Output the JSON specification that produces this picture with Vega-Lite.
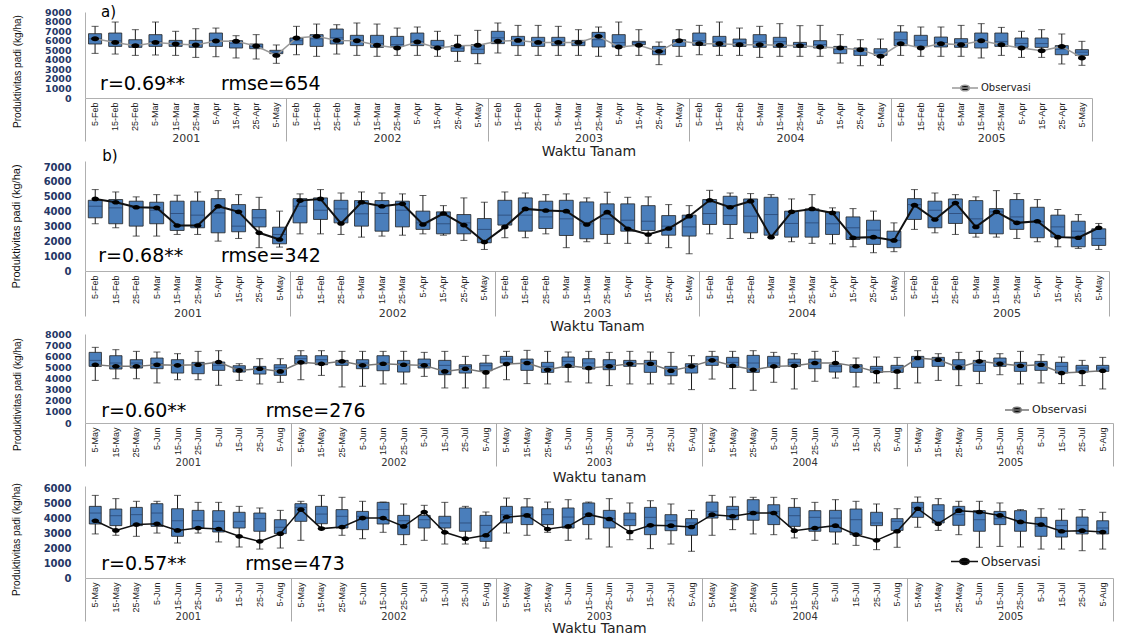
{
"$schema":"https://vega.github.io/schema/vega-lite/v6.json",
"padding":{"left":10,"top":5,"right":0,"bottom":0},
"background":"white",
"config":{"view":{"stroke":null},"axis":{"grid":false},"axisY":{"format":"d","labelFont":"DejaVu Sans","labelFontWeight":"bold","labelFontSize":10,"labelColor":"#253766","labelPadding":14,"ticks":false,"domainColor":"#b0b0b0","titleFont":"Liberation Sans","titleFontSize":10,"titleFontWeight":"normal","titleColor":"#111","titlePadding":22},"font":"DejaVu Sans"},
"datasets":{
"a":[
{"k":"2001 01 5-Feb","yr":"2001","lo":4670,"q1":5650,"md":6200,"q3":6730,"hi":7500,"obs":6210},
{"k":"2001 02 15-Feb","yr":"2001","lo":4600,"q1":5400,"md":6000,"q3":6800,"hi":7950,"obs":5820},
{"k":"2001 03 25-Feb","yr":"2001","lo":4460,"q1":5300,"md":5600,"q3":6100,"hi":7150,"obs":5480},
{"k":"2001 04 5-Mar","yr":"2001","lo":4500,"q1":5400,"md":5900,"q3":6630,"hi":7950,"obs":5820},
{"k":"2001 05 15-Mar","yr":"2001","lo":4460,"q1":5400,"md":5700,"q3":6030,"hi":6980,"obs":5650},
{"k":"2001 06 25-Mar","yr":"2001","lo":4250,"q1":5300,"md":5600,"q3":6030,"hi":7250,"obs":5550},
{"k":"2001 07 5-Apr","yr":"2001","lo":4320,"q1":5400,"md":6000,"q3":6800,"hi":7320,"obs":5960},
{"k":"2001 08 15-Apr","yr":"2001","lo":4190,"q1":5230,"md":5700,"q3":6000,"hi":6520,"obs":5930},
{"k":"2001 09 25-Apr","yr":"2001","lo":4080,"q1":5160,"md":5400,"q3":5650,"hi":6630,"obs":5440},
{"k":"2001 10 5-May","yr":"2001","lo":3630,"q1":4640,"md":4800,"q3":4990,"hi":5550,"obs":4460},
{"k":"2002 01 5-Feb","yr":"2002","lo":4530,"q1":5580,"md":6000,"q3":6280,"hi":7500,"obs":6280},
{"k":"2002 02 15-Feb","yr":"2002","lo":4360,"q1":5400,"md":6200,"q3":6630,"hi":7740,"obs":6450},
{"k":"2002 03 25-Feb","yr":"2002","lo":4600,"q1":5650,"md":6300,"q3":7220,"hi":7670,"obs":6030},
{"k":"2002 04 5-Mar","yr":"2002","lo":4460,"q1":5480,"md":6000,"q3":6560,"hi":7850,"obs":6000},
{"k":"2002 05 15-Mar","yr":"2002","lo":4360,"q1":5300,"md":5700,"q3":6560,"hi":7740,"obs":5510},
{"k":"2002 06 25-Mar","yr":"2002","lo":4460,"q1":5400,"md":5600,"q3":6450,"hi":7320,"obs":5230},
{"k":"2002 07 5-Apr","yr":"2002","lo":4460,"q1":5480,"md":5900,"q3":6800,"hi":7430,"obs":5860},
{"k":"2002 08 15-Apr","yr":"2002","lo":4360,"q1":5230,"md":5500,"q3":6030,"hi":6980,"obs":5230},
{"k":"2002 09 25-Apr","yr":"2002","lo":3840,"q1":4880,"md":5200,"q3":5480,"hi":6560,"obs":5480},
{"k":"2002 10 5-May","yr":"2002","lo":3590,"q1":4640,"md":5100,"q3":5580,"hi":7080,"obs":5510},
{"k":"2003 01 5-Feb","yr":"2003","lo":4710,"q1":5690,"md":6300,"q3":6980,"hi":7850,"obs":5930},
{"k":"2003 02 15-Feb","yr":"2003","lo":4460,"q1":5480,"md":6000,"q3":6450,"hi":7600,"obs":6030},
{"k":"2003 03 25-Feb","yr":"2003","lo":4460,"q1":5400,"md":5900,"q3":6350,"hi":7600,"obs":5820},
{"k":"2003 04 5-Mar","yr":"2003","lo":4460,"q1":5480,"md":5900,"q3":6350,"hi":7500,"obs":5820},
{"k":"2003 05 15-Mar","yr":"2003","lo":4460,"q1":5480,"md":5800,"q3":6030,"hi":7150,"obs":5820},
{"k":"2003 06 25-Mar","yr":"2003","lo":4360,"q1":5340,"md":6100,"q3":6870,"hi":7430,"obs":6450},
{"k":"2003 07 5-Apr","yr":"2003","lo":4460,"q1":5340,"md":5800,"q3":6630,"hi":7950,"obs":5340},
{"k":"2003 08 15-Apr","yr":"2003","lo":4460,"q1":5580,"md":5800,"q3":5930,"hi":7150,"obs":5510},
{"k":"2003 09 25-Apr","yr":"2003","lo":3490,"q1":4530,"md":4900,"q3":5400,"hi":5860,"obs":4880},
{"k":"2003 10 5-May","yr":"2003","lo":4360,"q1":5400,"md":5900,"q3":6100,"hi":7150,"obs":6000},
{"k":"2004 01 5-Feb","yr":"2004","lo":4530,"q1":5510,"md":6000,"q3":6800,"hi":7600,"obs":5690},
{"k":"2004 02 15-Feb","yr":"2004","lo":4460,"q1":5400,"md":5900,"q3":6450,"hi":7950,"obs":5690},
{"k":"2004 03 25-Feb","yr":"2004","lo":4460,"q1":5400,"md":5800,"q3":6170,"hi":7320,"obs":5580},
{"k":"2004 04 5-Mar","yr":"2004","lo":4250,"q1":5300,"md":5900,"q3":6630,"hi":7500,"obs":5580},
{"k":"2004 05 15-Mar","yr":"2004","lo":4360,"q1":5300,"md":5900,"q3":6350,"hi":7780,"obs":5510},
{"k":"2004 06 25-Mar","yr":"2004","lo":4360,"q1":5300,"md":5600,"q3":5820,"hi":7570,"obs":5480},
{"k":"2004 07 5-Apr","yr":"2004","lo":4360,"q1":5230,"md":5600,"q3":6000,"hi":7600,"obs":5340},
{"k":"2004 08 15-Apr","yr":"2004","lo":3660,"q1":4640,"md":5100,"q3":5400,"hi":6630,"obs":5230},
{"k":"2004 09 25-Apr","yr":"2004","lo":3380,"q1":4460,"md":4900,"q3":5230,"hi":6100,"obs":5060},
{"k":"2004 10 5-May","yr":"2004","lo":3420,"q1":4460,"md":4800,"q3":5160,"hi":6170,"obs":4360},
{"k":"2005 01 5-Feb","yr":"2005","lo":4460,"q1":5480,"md":6100,"q3":6910,"hi":7570,"obs":5690},
{"k":"2005 02 15-Feb","yr":"2005","lo":4360,"q1":5400,"md":6030,"q3":6560,"hi":7430,"obs":5230},
{"k":"2005 03 25-Feb","yr":"2005","lo":4360,"q1":5340,"md":5800,"q3":6380,"hi":7430,"obs":5690},
{"k":"2005 04 5-Mar","yr":"2005","lo":4360,"q1":5300,"md":5800,"q3":6210,"hi":7600,"obs":5580},
{"k":"2005 05 15-Mar","yr":"2005","lo":4190,"q1":5230,"md":6000,"q3":6800,"hi":7780,"obs":6000},
{"k":"2005 06 25-Mar","yr":"2005","lo":4460,"q1":5400,"md":5900,"q3":6800,"hi":7390,"obs":5580},
{"k":"2005 07 5-Apr","yr":"2005","lo":4250,"q1":5300,"md":5700,"q3":6280,"hi":6980,"obs":5230},
{"k":"2005 08 15-Apr","yr":"2005","lo":4250,"q1":5300,"md":5700,"q3":6280,"hi":7150,"obs":4950},
{"k":"2005 09 25-Apr","yr":"2005","lo":3560,"q1":4530,"md":5100,"q3":5480,"hi":6700,"obs":5400},
{"k":"2005 10 5-May","yr":"2005","lo":3420,"q1":4460,"md":4800,"q3":5060,"hi":5930,"obs":4190}
],
"b":[
{"k":"2001 01 5-Feb","yr":"2001","lo":3180,"q1":3580,"md":4360,"q3":4760,"hi":5480,"obs":4850},
{"k":"2001 02 15-Feb","yr":"2001","lo":2910,"q1":3180,"md":4250,"q3":4810,"hi":5320,"obs":4630},
{"k":"2001 03 25-Feb","yr":"2001","lo":2350,"q1":3020,"md":4290,"q3":4700,"hi":4990,"obs":4290},
{"k":"2001 04 5-Mar","yr":"2001","lo":2350,"q1":3180,"md":4090,"q3":4630,"hi":5140,"obs":4250},
{"k":"2001 05 15-Mar","yr":"2001","lo":2460,"q1":2730,"md":3870,"q3":4700,"hi":5100,"obs":3060},
{"k":"2001 06 25-Mar","yr":"2001","lo":2460,"q1":2910,"md":3760,"q3":4700,"hi":5320,"obs":3060},
{"k":"2001 07 5-Apr","yr":"2001","lo":2010,"q1":2570,"md":3910,"q3":4870,"hi":5410,"obs":4360},
{"k":"2001 08 15-Apr","yr":"2001","lo":2190,"q1":2640,"md":3020,"q3":4470,"hi":5140,"obs":3980},
{"k":"2001 09 25-Apr","yr":"2001","lo":1570,"q1":2970,"md":3580,"q3":4140,"hi":4960,"obs":2570},
{"k":"2001 10 5-May","yr":"2001","lo":1610,"q1":1830,"md":2460,"q3":2950,"hi":4030,"obs":2120},
{"k":"2002 01 5-Feb","yr":"2002","lo":2500,"q1":3240,"md":4360,"q3":4870,"hi":5190,"obs":4740},
{"k":"2002 02 15-Feb","yr":"2002","lo":2500,"q1":3470,"md":4090,"q3":4920,"hi":5480,"obs":4850},
{"k":"2002 03 25-Feb","yr":"2002","lo":2460,"q1":3240,"md":4180,"q3":4760,"hi":5250,"obs":3200},
{"k":"2002 04 5-Mar","yr":"2002","lo":2280,"q1":3020,"md":3850,"q3":4740,"hi":5320,"obs":4630},
{"k":"2002 05 15-Mar","yr":"2002","lo":2350,"q1":2680,"md":3870,"q3":4740,"hi":5250,"obs":4360},
{"k":"2002 06 25-Mar","yr":"2002","lo":2410,"q1":2970,"md":4090,"q3":4700,"hi":5190,"obs":4520},
{"k":"2002 07 5-Apr","yr":"2002","lo":2500,"q1":2800,"md":3240,"q3":4030,"hi":5080,"obs":3130},
{"k":"2002 08 15-Apr","yr":"2002","lo":2410,"q1":2500,"md":3180,"q3":3980,"hi":4400,"obs":3870},
{"k":"2002 09 25-Apr","yr":"2002","lo":2060,"q1":2500,"md":3240,"q3":3800,"hi":4920,"obs":3090},
{"k":"2002 10 5-May","yr":"2002","lo":1450,"q1":1900,"md":2800,"q3":3530,"hi":4630,"obs":1950},
{"k":"2003 01 5-Feb","yr":"2003","lo":2240,"q1":3090,"md":3760,"q3":4760,"hi":5320,"obs":2970},
{"k":"2003 02 15-Feb","yr":"2003","lo":2240,"q1":2680,"md":3760,"q3":4920,"hi":5250,"obs":4180},
{"k":"2003 03 25-Feb","yr":"2003","lo":2500,"q1":2860,"md":3640,"q3":4700,"hi":5140,"obs":4070},
{"k":"2003 04 5-Mar","yr":"2003","lo":1570,"q1":2390,"md":3510,"q3":4760,"hi":5190,"obs":4030},
{"k":"2003 05 15-Mar","yr":"2003","lo":1970,"q1":2170,"md":3180,"q3":4650,"hi":4920,"obs":3130},
{"k":"2003 06 25-Mar","yr":"2003","lo":1860,"q1":2460,"md":3510,"q3":4520,"hi":5300,"obs":3960},
{"k":"2003 07 5-Apr","yr":"2003","lo":1860,"q1":2680,"md":3420,"q3":4520,"hi":4960,"obs":2840},
{"k":"2003 08 15-Apr","yr":"2003","lo":1860,"q1":2730,"md":3350,"q3":4400,"hi":4990,"obs":2460},
{"k":"2003 09 25-Apr","yr":"2003","lo":1570,"q1":2410,"md":3020,"q3":3730,"hi":4470,"obs":2860},
{"k":"2003 10 5-May","yr":"2003","lo":1160,"q1":2350,"md":2970,"q3":3760,"hi":4400,"obs":3690},
{"k":"2004 01 5-Feb","yr":"2004","lo":2500,"q1":3130,"md":3870,"q3":4810,"hi":5430,"obs":4760},
{"k":"2004 02 15-Feb","yr":"2004","lo":2190,"q1":3130,"md":3730,"q3":5030,"hi":5250,"obs":4290},
{"k":"2004 03 25-Feb","yr":"2004","lo":2190,"q1":2570,"md":3690,"q3":4850,"hi":5210,"obs":4700},
{"k":"2004 04 5-Mar","yr":"2004","lo":2280,"q1":2410,"md":3800,"q3":4960,"hi":5140,"obs":2280},
{"k":"2004 05 15-Mar","yr":"2004","lo":1970,"q1":2280,"md":3200,"q3":4030,"hi":4850,"obs":3980},
{"k":"2004 06 25-Mar","yr":"2004","lo":1860,"q1":2280,"md":3240,"q3":4180,"hi":5140,"obs":4180},
{"k":"2004 07 5-Apr","yr":"2004","lo":1830,"q1":2460,"md":3180,"q3":3980,"hi":4250,"obs":3910},
{"k":"2004 08 15-Apr","yr":"2004","lo":1630,"q1":2120,"md":2910,"q3":3640,"hi":4200,"obs":2240},
{"k":"2004 09 25-Apr","yr":"2004","lo":1230,"q1":1790,"md":2750,"q3":3420,"hi":4030,"obs":2280},
{"k":"2004 10 5-May","yr":"2004","lo":1300,"q1":1570,"md":2060,"q3":2680,"hi":3240,"obs":2060},
{"k":"2005 01 5-Feb","yr":"2005","lo":2800,"q1":3470,"md":4470,"q3":4870,"hi":5480,"obs":4430},
{"k":"2005 02 15-Feb","yr":"2005","lo":2570,"q1":2910,"md":4090,"q3":4700,"hi":5250,"obs":3470},
{"k":"2005 03 25-Feb","yr":"2005","lo":2460,"q1":3200,"md":3870,"q3":4850,"hi":5140,"obs":4580},
{"k":"2005 04 5-Mar","yr":"2005","lo":2280,"q1":2530,"md":3510,"q3":4740,"hi":4990,"obs":2970},
{"k":"2005 05 15-Mar","yr":"2005","lo":2280,"q1":2500,"md":3980,"q3":4200,"hi":5410,"obs":3980},
{"k":"2005 06 25-Mar","yr":"2005","lo":2190,"q1":2800,"md":3640,"q3":4810,"hi":5210,"obs":3240},
{"k":"2005 07 5-Apr","yr":"2005","lo":1970,"q1":2240,"md":3310,"q3":4290,"hi":4810,"obs":3350},
{"k":"2005 08 15-Apr","yr":"2005","lo":1630,"q1":2280,"md":2970,"q3":3760,"hi":4140,"obs":2280},
{"k":"2005 09 25-Apr","yr":"2005","lo":1520,"q1":1630,"md":2680,"q3":3350,"hi":3800,"obs":2240},
{"k":"2005 10 5-May","yr":"2005","lo":1450,"q1":1720,"md":2190,"q3":2840,"hi":3200,"obs":2910}
],
"c":[
{"k":"2001 01 5-May","yr":"2001","lo":3830,"q1":5090,"md":5630,"q3":6350,"hi":6800,"obs":5240},
{"k":"2001 02 15-May","yr":"2001","lo":3980,"q1":4850,"md":5390,"q3":6050,"hi":6590,"obs":5090},
{"k":"2001 03 25-May","yr":"2001","lo":3980,"q1":4940,"md":5390,"q3":5690,"hi":6440,"obs":5090},
{"k":"2001 04 5-Jun","yr":"2001","lo":3600,"q1":4880,"md":5330,"q3":5840,"hi":6380,"obs":5240},
{"k":"2001 05 15-Jun","yr":"2001","lo":3890,"q1":4490,"md":5180,"q3":5690,"hi":6230,"obs":5180},
{"k":"2001 06 25-Jun","yr":"2001","lo":3890,"q1":4430,"md":5240,"q3":5450,"hi":6440,"obs":5240},
{"k":"2001 07 5-Jul","yr":"2001","lo":3390,"q1":4730,"md":5180,"q3":5480,"hi":6500,"obs":5480},
{"k":"2001 08 15-Jul","yr":"2001","lo":3830,"q1":4580,"md":4940,"q3":5150,"hi":5330,"obs":4730},
{"k":"2001 09 25-Jul","yr":"2001","lo":3510,"q1":4400,"md":4880,"q3":5090,"hi":5780,"obs":4880},
{"k":"2001 10 5-Aug","yr":"2001","lo":3660,"q1":4280,"md":5000,"q3":5240,"hi":5780,"obs":4640},
{"k":"2002 01 5-May","yr":"2002","lo":3890,"q1":5330,"md":5780,"q3":6050,"hi":6500,"obs":5450},
{"k":"2002 02 15-May","yr":"2002","lo":4280,"q1":5240,"md":5690,"q3":6050,"hi":6500,"obs":5330},
{"k":"2002 03 25-May","yr":"2002","lo":3240,"q1":5180,"md":5480,"q3":5630,"hi":6440,"obs":5540},
{"k":"2002 04 5-Jun","yr":"2002","lo":3300,"q1":4880,"md":5390,"q3":5690,"hi":6440,"obs":5180},
{"k":"2002 05 15-Jun","yr":"2002","lo":3510,"q1":4700,"md":5390,"q3":6050,"hi":6440,"obs":5330},
{"k":"2002 06 25-Jun","yr":"2002","lo":3510,"q1":4580,"md":5330,"q3":5630,"hi":6440,"obs":5240},
{"k":"2002 07 5-Jul","yr":"2002","lo":4190,"q1":4940,"md":5330,"q3":5750,"hi":6350,"obs":5180},
{"k":"2002 08 15-Jul","yr":"2002","lo":3150,"q1":4340,"md":5180,"q3":5630,"hi":6440,"obs":4640},
{"k":"2002 09 25-Jul","yr":"2002","lo":3150,"q1":4490,"md":5090,"q3":5240,"hi":5990,"obs":4880},
{"k":"2002 10 5-Aug","yr":"2002","lo":3150,"q1":4700,"md":5150,"q3":5390,"hi":6080,"obs":4550},
{"k":"2003 01 5-May","yr":"2003","lo":3890,"q1":5390,"md":5750,"q3":5990,"hi":6440,"obs":5300},
{"k":"2003 02 15-May","yr":"2003","lo":3540,"q1":4730,"md":5450,"q3":5750,"hi":6530,"obs":5390},
{"k":"2003 03 25-May","yr":"2003","lo":3510,"q1":4550,"md":5090,"q3":5450,"hi":6440,"obs":4790},
{"k":"2003 04 5-Jun","yr":"2003","lo":3690,"q1":5000,"md":5540,"q3":5930,"hi":6380,"obs":5150},
{"k":"2003 05 15-Jun","yr":"2003","lo":3600,"q1":4850,"md":5390,"q3":5780,"hi":6440,"obs":4940},
{"k":"2003 06 25-Jun","yr":"2003","lo":3360,"q1":4790,"md":5240,"q3":5690,"hi":6350,"obs":5090},
{"k":"2003 07 5-Jul","yr":"2003","lo":3510,"q1":5090,"md":5390,"q3":5630,"hi":6440,"obs":5330},
{"k":"2003 08 15-Jul","yr":"2003","lo":3510,"q1":4550,"md":5390,"q3":5630,"hi":6380,"obs":5330},
{"k":"2003 09 25-Jul","yr":"2003","lo":3510,"q1":4250,"md":4880,"q3":5090,"hi":6350,"obs":4700},
{"k":"2003 10 5-Aug","yr":"2003","lo":3000,"q1":4490,"md":5090,"q3":5330,"hi":6050,"obs":5090},
{"k":"2004 01 5-May","yr":"2004","lo":3950,"q1":5180,"md":5690,"q3":5990,"hi":6440,"obs":5630},
{"k":"2004 02 15-May","yr":"2004","lo":3090,"q1":5000,"md":5450,"q3":5900,"hi":6440,"obs":5150},
{"k":"2004 03 25-May","yr":"2004","lo":2940,"q1":4550,"md":5390,"q3":6080,"hi":6500,"obs":4790},
{"k":"2004 04 5-Jun","yr":"2004","lo":3660,"q1":5000,"md":5390,"q3":5990,"hi":6350,"obs":5090},
{"k":"2004 05 15-Jun","yr":"2004","lo":3060,"q1":5090,"md":5450,"q3":5750,"hi":6230,"obs":5150},
{"k":"2004 06 25-Jun","yr":"2004","lo":3750,"q1":4880,"md":5450,"q3":5750,"hi":6440,"obs":5390},
{"k":"2004 07 5-Jul","yr":"2004","lo":4040,"q1":4580,"md":5090,"q3":5240,"hi":6440,"obs":5390},
{"k":"2004 08 15-Jul","yr":"2004","lo":3240,"q1":4550,"md":5030,"q3":5240,"hi":5840,"obs":5090},
{"k":"2004 09 25-Jul","yr":"2004","lo":3600,"q1":4550,"md":4880,"q3":5090,"hi":5930,"obs":4580},
{"k":"2004 10 5-Aug","yr":"2004","lo":3090,"q1":4550,"md":4940,"q3":5180,"hi":5900,"obs":4640},
{"k":"2005 01 5-May","yr":"2005","lo":3600,"q1":5000,"md":5750,"q3":5990,"hi":6500,"obs":5840},
{"k":"2005 02 15-May","yr":"2005","lo":3830,"q1":5090,"md":5600,"q3":5900,"hi":6230,"obs":5690},
{"k":"2005 03 25-May","yr":"2005","lo":3360,"q1":4790,"md":5240,"q3":5690,"hi":6350,"obs":5000},
{"k":"2005 04 5-Jun","yr":"2005","lo":3540,"q1":4640,"md":5180,"q3":5630,"hi":6440,"obs":5540},
{"k":"2005 05 15-Jun","yr":"2005","lo":4340,"q1":5090,"md":5480,"q3":5840,"hi":6230,"obs":5330},
{"k":"2005 06 25-Jun","yr":"2005","lo":3510,"q1":4640,"md":5180,"q3":5450,"hi":6440,"obs":5150},
{"k":"2005 07 5-Jul","yr":"2005","lo":3600,"q1":4730,"md":5300,"q3":5540,"hi":6140,"obs":5240},
{"k":"2005 08 15-Jul","yr":"2005","lo":3540,"q1":4490,"md":5090,"q3":5450,"hi":5930,"obs":4490},
{"k":"2005 09 25-Jul","yr":"2005","lo":3360,"q1":4580,"md":4940,"q3":5180,"hi":5630,"obs":4580},
{"k":"2005 10 5-Aug","yr":"2005","lo":3060,"q1":4640,"md":4940,"q3":5180,"hi":5900,"obs":4700}
],
"d":[
{"k":"2001 01 5-May","yr":"2001","lo":2970,"q1":3640,"md":4380,"q3":4830,"hi":5570,"obs":3860},
{"k":"2001 02 15-May","yr":"2001","lo":2880,"q1":3530,"md":4200,"q3":4650,"hi":5350,"obs":3210},
{"k":"2001 03 25-May","yr":"2001","lo":2810,"q1":3530,"md":4270,"q3":4760,"hi":5170,"obs":3600},
{"k":"2001 04 5-Jun","yr":"2001","lo":3030,"q1":3480,"md":4380,"q3":5010,"hi":5170,"obs":3660},
{"k":"2001 05 15-Jun","yr":"2001","lo":2360,"q1":2810,"md":3860,"q3":4670,"hi":5570,"obs":3210},
{"k":"2001 06 25-Jun","yr":"2001","lo":3030,"q1":3370,"md":3860,"q3":4560,"hi":5100,"obs":3370},
{"k":"2001 07 5-Jul","yr":"2001","lo":2430,"q1":3100,"md":3820,"q3":4540,"hi":5100,"obs":3300},
{"k":"2001 08 15-Jul","yr":"2001","lo":2090,"q1":3370,"md":3820,"q3":4430,"hi":4830,"obs":2810},
{"k":"2001 09 25-Jul","yr":"2001","lo":1950,"q1":3150,"md":4000,"q3":4380,"hi":4720,"obs":2470},
{"k":"2001 10 5-Aug","yr":"2001","lo":2020,"q1":2990,"md":3420,"q3":3930,"hi":4560,"obs":2990},
{"k":"2002 01 5-May","yr":"2002","lo":2540,"q1":3820,"md":4760,"q3":5010,"hi":5170,"obs":4610},
{"k":"2002 02 15-May","yr":"2002","lo":3370,"q1":3660,"md":4310,"q3":4830,"hi":5570,"obs":3330},
{"k":"2002 03 25-May","yr":"2002","lo":2880,"q1":3370,"md":4160,"q3":4610,"hi":5440,"obs":3440},
{"k":"2002 04 5-Jun","yr":"2002","lo":2650,"q1":3260,"md":4160,"q3":4490,"hi":5170,"obs":4040},
{"k":"2002 05 15-Jun","yr":"2002","lo":3080,"q1":3640,"md":4610,"q3":5100,"hi":5120,"obs":4040},
{"k":"2002 06 25-Jun","yr":"2002","lo":2250,"q1":2920,"md":3860,"q3":4220,"hi":4990,"obs":3480},
{"k":"2002 07 5-Jul","yr":"2002","lo":2540,"q1":3370,"md":3930,"q3":4220,"hi":4900,"obs":4450},
{"k":"2002 08 15-Jul","yr":"2002","lo":2290,"q1":3370,"md":3710,"q3":4160,"hi":5100,"obs":3080},
{"k":"2002 09 25-Jul","yr":"2002","lo":2290,"q1":3150,"md":3710,"q3":4720,"hi":4830,"obs":2650},
{"k":"2002 10 5-Aug","yr":"2002","lo":2020,"q1":2470,"md":3550,"q3":4220,"hi":4450,"obs":2880},
{"k":"2003 01 5-May","yr":"2003","lo":3030,"q1":3710,"md":4270,"q3":4830,"hi":5390,"obs":4110},
{"k":"2003 02 15-May","yr":"2003","lo":2880,"q1":3600,"md":4310,"q3":4790,"hi":5350,"obs":4220},
{"k":"2003 03 25-May","yr":"2003","lo":3080,"q1":3600,"md":4270,"q3":4670,"hi":5120,"obs":3300},
{"k":"2003 04 5-Jun","yr":"2003","lo":2540,"q1":3370,"md":4110,"q3":4720,"hi":5280,"obs":3480},
{"k":"2003 05 15-Jun","yr":"2003","lo":2630,"q1":3600,"md":4310,"q3":5060,"hi":5120,"obs":4270},
{"k":"2003 06 25-Jun","yr":"2003","lo":2090,"q1":3370,"md":4000,"q3":4560,"hi":5350,"obs":3980},
{"k":"2003 07 5-Jul","yr":"2003","lo":2580,"q1":3530,"md":3930,"q3":4380,"hi":5060,"obs":3100},
{"k":"2003 08 15-Jul","yr":"2003","lo":1980,"q1":2920,"md":4090,"q3":4760,"hi":5210,"obs":3550},
{"k":"2003 09 25-Jul","yr":"2003","lo":2290,"q1":3190,"md":3860,"q3":4270,"hi":4990,"obs":3530},
{"k":"2003 10 5-Aug","yr":"2003","lo":1800,"q1":2880,"md":3710,"q3":4000,"hi":4560,"obs":3440},
{"k":"2004 01 5-May","yr":"2004","lo":2880,"q1":4040,"md":4490,"q3":5120,"hi":5570,"obs":4270},
{"k":"2004 02 15-May","yr":"2004","lo":3260,"q1":3930,"md":4610,"q3":4830,"hi":5460,"obs":4160},
{"k":"2004 03 25-May","yr":"2004","lo":2970,"q1":3890,"md":4490,"q3":5280,"hi":5440,"obs":4380},
{"k":"2004 04 5-Jun","yr":"2004","lo":2920,"q1":3600,"md":4490,"q3":4940,"hi":5440,"obs":4380},
{"k":"2004 05 15-Jun","yr":"2004","lo":2700,"q1":3480,"md":4200,"q3":4760,"hi":5350,"obs":3190},
{"k":"2004 06 25-Jun","yr":"2004","lo":2540,"q1":3150,"md":4090,"q3":4540,"hi":5100,"obs":3370},
{"k":"2004 07 5-Jul","yr":"2004","lo":2290,"q1":3100,"md":4040,"q3":4560,"hi":5280,"obs":3530},
{"k":"2004 08 15-Jul","yr":"2004","lo":2200,"q1":2920,"md":3930,"q3":4650,"hi":5170,"obs":2920},
{"k":"2004 09 25-Jul","yr":"2004","lo":1910,"q1":3530,"md":3710,"q3":4430,"hi":4990,"obs":2540},
{"k":"2004 10 5-Aug","yr":"2004","lo":2070,"q1":3210,"md":3820,"q3":4000,"hi":4670,"obs":3150},
{"k":"2005 01 5-May","yr":"2005","lo":3420,"q1":4090,"md":4760,"q3":5100,"hi":5460,"obs":4670},
{"k":"2005 02 15-May","yr":"2005","lo":3210,"q1":3710,"md":4540,"q3":4940,"hi":5350,"obs":3660},
{"k":"2005 03 25-May","yr":"2005","lo":2920,"q1":3550,"md":4270,"q3":4830,"hi":5170,"obs":4540},
{"k":"2005 04 5-Jun","yr":"2005","lo":2070,"q1":3150,"md":3930,"q3":4540,"hi":5170,"obs":4450},
{"k":"2005 05 15-Jun","yr":"2005","lo":2130,"q1":3600,"md":4000,"q3":4490,"hi":5060,"obs":4220},
{"k":"2005 06 25-Jun","yr":"2005","lo":2090,"q1":3150,"md":3820,"q3":4540,"hi":4610,"obs":3780},
{"k":"2005 07 5-Jul","yr":"2005","lo":1950,"q1":2810,"md":3480,"q3":4090,"hi":4670,"obs":3600},
{"k":"2005 08 15-Jul","yr":"2005","lo":1950,"q1":2760,"md":3530,"q3":3890,"hi":4650,"obs":3150},
{"k":"2005 09 25-Jul","yr":"2005","lo":1840,"q1":2970,"md":3550,"q3":4110,"hi":4610,"obs":3190},
{"k":"2005 10 5-Aug","yr":"2005","lo":1950,"q1":2970,"md":3370,"q3":3860,"hi":4430,"obs":3100}
]
},
"vconcat":[
{
"width":1007,"height":86,
"data":{"name":"a"},
"layer":[
{"layer":[
{"mark":{"type":"rule","color":"#1a1a1a","strokeWidth":1},
"encoding":{
"x":{"field":"k","type":"nominal","scale":{"type":"band","paddingInner":0,"paddingOuter":0},
"axis":{"title":null,"labelExpr":"split(datum.value,' ')[2]","labelAngle":-90,"labelFont":"Liberation Sans","labelFontSize":9,"labelColor":"#222","labelPadding":4,"ticks":false,"domainColor":"#b0b0b0","labelOverlap":false}},
"y":{"field":"lo","type":"quantitative","scale":{"domain":[0,9000],"nice":false},
"axis":{"title":"Produktivitas padi (kg/ha)","values":[0,1000,2000,3000,4000,5000,6000,7000,8000,9000],"tickCount":20,"labelOverlap":false,"labelFontSize":9.5,"titleY":59}},
"y2":{"field":"hi"}}},
{"mark":{"type":"bar","width":{"band":0.65},"fill":"#4a7ebb","stroke":"#222","strokeWidth":0.8},
"encoding":{"x":{"field":"k","type":"nominal"},"y":{"field":"q1","type":"quantitative"},"y2":{"field":"q3"}}},
{"mark":{"type":"tick","size":13,"thickness":1,"color":"#25406b"},
"encoding":{"x":{"field":"k","type":"nominal"},"y":{"field":"md","type":"quantitative"}}},
{"mark":{"type":"tick","size":7,"thickness":1,"color":"#1a1a1a"},
"encoding":{"x":{"field":"k","type":"nominal"},"y":{"field":"lo","type":"quantitative"}}},
{"mark":{"type":"tick","size":7,"thickness":1,"color":"#1a1a1a"},
"encoding":{"x":{"field":"k","type":"nominal"},"y":{"field":"hi","type":"quantitative"}}},
{"mark":{"type":"line","strokeWidth":1.5},
"encoding":{"x":{"field":"k","type":"nominal"},"y":{"field":"obs","type":"quantitative"},
"color":{"datum":"Observasi","scale":{"range":["#999999"]},
"legend":{"title":null,"orient":"none","legendX":866,"legendY":62,"labelFont":"DejaVu Sans","labelFontSize":10,"labelColor":"#222","labelOffset":2,"symbolType":"M-1,0H1M-0.35,0A0.35,0.22 0 1,0 0.35,0A0.35,0.22 0 1,0 -0.35,0Z","symbolSize":676,"symbolStrokeWidth":1.5,
"encode":{"symbols":{"update":{"fill":{"value":"black"},"stroke":{"value":"#444"}}}}}}}},
{"mark":{"type":"point","shape":"M-1,0A1,0.62 0 1,0 1,0A1,0.62 0 1,0 -1,0Z","size":64,"filled":true,"color":"black","opacity":1},
"encoding":{"x":{"field":"k","type":"nominal"},"y":{"field":"obs","type":"quantitative"}}},
{"data":{"values":[{"k":"2001 01 5-Feb","v":1465,"t":"r=0.69**"},{"k":"2001 07 5-Apr","v":1465,"t":"rmse=654"}]},
"mark":{"type":"text","align":"left","baseline":"middle","fontSize":19,"dx":5,"font":"DejaVu Sans","color":"black"},
"encoding":{"x":{"field":"k","type":"nominal"},"y":{"field":"v","type":"quantitative"},"text":{"field":"t"}}},
{"data":{"values":[{"k":"2001 01 5-Feb","v":9000,"t":"a)"}]},
"mark":{"type":"text","align":"left","baseline":"middle","fontSize":15,"dx":6,"font":"DejaVu Sans","color":"black"},
"encoding":{"x":{"field":"k","type":"nominal"},"y":{"field":"v","type":"quantitative"},"text":{"field":"t"}}}
]},
{"mark":{"type":"rule","opacity":0},
"encoding":{"x":{"field":"yr","type":"nominal","scale":{"type":"band","paddingInner":0,"paddingOuter":0},
"axis":{"orient":"bottom","title":"Waktu Tanam","titleY":46,"titleFont":"DejaVu Sans","titleFontSize":14,"titleFontWeight":"normal","titleColor":"#222","tickBand":"extent","tickSize":43,"tickColor":"#aaaaaa","domain":false,"labelAngle":0,"labelPadding":-9,"labelFont":"DejaVu Sans","labelFontSize":11,"labelColor":"#333"}}}}
],
"resolve":{"scale":{"x":"independent"}}
},
{
"width":1024,"height":110,
"data":{"name":"b"},
"layer":[
{"layer":[
{"mark":{"type":"rule","color":"#1a1a1a","strokeWidth":1},
"encoding":{
"x":{"field":"k","type":"nominal","scale":{"type":"band","paddingInner":0,"paddingOuter":0},
"axis":{"title":null,"labelExpr":"split(datum.value,' ')[2]","labelAngle":-90,"labelFont":"Liberation Sans","labelFontSize":9,"labelColor":"#222","labelPadding":4,"ticks":false,"domainColor":"#b0b0b0","labelOverlap":false}},
"y":{"field":"lo","type":"quantitative","scale":{"domain":[0,7404],"nice":false},
"axis":{"title":"Produktivitas padi (kg/ha)","values":[0,1000,2000,3000,4000,5000,6000,7000],"tickCount":20,"labelOverlap":false,"titleFontSize":11,"titleY":65}},
"y2":{"field":"hi"}}},
{"mark":{"type":"bar","width":{"band":0.68},"fill":"#4a7ebb","stroke":"#222","strokeWidth":0.8},
"encoding":{"x":{"field":"k","type":"nominal"},"y":{"field":"q1","type":"quantitative"},"y2":{"field":"q3"}}},
{"mark":{"type":"tick","size":14,"thickness":1,"color":"#25406b"},
"encoding":{"x":{"field":"k","type":"nominal"},"y":{"field":"md","type":"quantitative"}}},
{"mark":{"type":"tick","size":7,"thickness":1,"color":"#1a1a1a"},
"encoding":{"x":{"field":"k","type":"nominal"},"y":{"field":"lo","type":"quantitative"}}},
{"mark":{"type":"tick","size":7,"thickness":1,"color":"#1a1a1a"},
"encoding":{"x":{"field":"k","type":"nominal"},"y":{"field":"hi","type":"quantitative"}}},
{"mark":{"type":"line","strokeWidth":2,"color":"#111"},
"encoding":{"x":{"field":"k","type":"nominal"},"y":{"field":"obs","type":"quantitative"}}},
{"mark":{"type":"point","shape":"M-1,0A1,0.62 0 1,0 1,0A1,0.62 0 1,0 -1,0Z","size":56,"filled":true,"color":"black","opacity":1},
"encoding":{"x":{"field":"k","type":"nominal"},"y":{"field":"obs","type":"quantitative"}}},
{"data":{"values":[{"k":"2001 01 5-Feb","v":1010,"t":"r=0.68**"},{"k":"2001 07 5-Apr","v":1010,"t":"rmse=342"}]},
"mark":{"type":"text","align":"left","baseline":"middle","fontSize":19,"dx":3,"font":"DejaVu Sans","color":"black"},
"encoding":{"x":{"field":"k","type":"nominal"},"y":{"field":"v","type":"quantitative"},"text":{"field":"t"}}},
{"data":{"values":[{"k":"2001 01 5-Feb","v":7740,"t":"b)"}]},
"mark":{"type":"text","align":"left","baseline":"middle","fontSize":15,"dx":7,"font":"DejaVu Sans","color":"black"},
"encoding":{"x":{"field":"k","type":"nominal"},"y":{"field":"v","type":"quantitative"},"text":{"field":"t"}}}
]},
{"mark":{"type":"rule","opacity":0},
"encoding":{"x":{"field":"yr","type":"nominal","scale":{"type":"band","paddingInner":0,"paddingOuter":0},
"axis":{"orient":"bottom","title":"Waktu Tanam","titleY":48,"titleFont":"DejaVu Sans","titleFontSize":14,"titleFontWeight":"normal","titleColor":"#222","tickBand":"extent","tickSize":45,"tickColor":"#aaaaaa","domain":false,"labelAngle":0,"labelPadding":-9,"labelFont":"DejaVu Sans","labelFontSize":11,"labelColor":"#333"}}}}
],
"resolve":{"scale":{"x":"independent"}}
},
{
"width":1028,"height":89,
"data":{"name":"c"},
"layer":[
{"layer":[
{"mark":{"type":"rule","color":"#1a1a1a","strokeWidth":1},
"encoding":{
"x":{"field":"k","type":"nominal","scale":{"type":"band","paddingInner":0,"paddingOuter":0},
"axis":{"title":null,"labelExpr":"split(datum.value,' ')[2]","labelAngle":-90,"labelFont":"Liberation Sans","labelFontSize":9,"labelColor":"#222","labelPadding":4,"ticks":false,"domainColor":"#b0b0b0","labelOverlap":false}},
"y":{"field":"lo","type":"quantitative","scale":{"domain":[0,8000],"nice":false},
"axis":{"title":"Produktivitas padi (kg/ha)","values":[0,1000,2000,3000,4000,5000,6000,7000,8000],"tickCount":20,"labelOverlap":false,"labelFontSize":9.5,"titleY":60}},
"y2":{"field":"hi"}}},
{"mark":{"type":"bar","width":{"band":0.6},"fill":"#4a7ebb","stroke":"#222","strokeWidth":0.8},
"encoding":{"x":{"field":"k","type":"nominal"},"y":{"field":"q1","type":"quantitative"},"y2":{"field":"q3"}}},
{"mark":{"type":"tick","size":12,"thickness":1,"color":"#25406b"},
"encoding":{"x":{"field":"k","type":"nominal"},"y":{"field":"md","type":"quantitative"}}},
{"mark":{"type":"tick","size":7,"thickness":1,"color":"#1a1a1a"},
"encoding":{"x":{"field":"k","type":"nominal"},"y":{"field":"lo","type":"quantitative"}}},
{"mark":{"type":"tick","size":7,"thickness":1,"color":"#1a1a1a"},
"encoding":{"x":{"field":"k","type":"nominal"},"y":{"field":"hi","type":"quantitative"}}},
{"mark":{"type":"line","strokeWidth":1.5},
"encoding":{"x":{"field":"k","type":"nominal"},"y":{"field":"obs","type":"quantitative"},
"color":{"datum":"Observasi","scale":{"range":["#777777"]},
"legend":{"title":null,"orient":"none","legendX":919,"legendY":63,"labelFont":"DejaVu Sans","labelFontSize":11,"labelColor":"#222","labelOffset":2,"symbolType":"M-1,0H1M-0.35,0A0.35,0.22 0 1,0 0.35,0A0.35,0.22 0 1,0 -0.35,0Z","symbolSize":576,"symbolStrokeWidth":1.5,
"encode":{"symbols":{"update":{"fill":{"value":"black"},"stroke":{"value":"#333"}}}}}}}},
{"mark":{"type":"point","shape":"M-1,0A1,0.62 0 1,0 1,0A1,0.62 0 1,0 -1,0Z","size":56,"filled":true,"color":"black","opacity":1},
"encoding":{"x":{"field":"k","type":"nominal"},"y":{"field":"obs","type":"quantitative"}}},
{"data":{"values":[{"k":"2001 01 5-May","v":1080,"t":"r=0.60**"},{"k":"2001 09 25-Jul","v":1080,"t":"rmse=276"}]},
"mark":{"type":"text","align":"left","baseline":"middle","fontSize":19,"dx":6,"font":"DejaVu Sans","color":"black"},
"encoding":{"x":{"field":"k","type":"nominal"},"y":{"field":"v","type":"quantitative"},"text":{"field":"t"}}}
]},
{"mark":{"type":"rule","opacity":0},
"encoding":{"x":{"field":"yr","type":"nominal","scale":{"type":"band","paddingInner":0,"paddingOuter":0},
"axis":{"orient":"bottom","title":"Waktu tanam","titleY":47,"titleFont":"DejaVu Sans","titleFontSize":14,"titleFontWeight":"normal","titleColor":"#222","tickBand":"extent","tickSize":43,"tickColor":"#aaaaaa","domain":false,"labelAngle":0,"labelPadding":-9,"labelFont":"DejaVu Sans","labelFontSize":10,"labelColor":"#333"}}}}
],
"resolve":{"scale":{"x":"independent"}}
},
{
"width":1028,"height":92,
"data":{"name":"d"},
"layer":[
{"layer":[
{"mark":{"type":"rule","color":"#1a1a1a","strokeWidth":1},
"encoding":{
"x":{"field":"k","type":"nominal","scale":{"type":"band","paddingInner":0,"paddingOuter":0},
"axis":{"title":null,"labelExpr":"split(datum.value,' ')[2]","labelAngle":-90,"labelFont":"Liberation Sans","labelFontSize":9,"labelColor":"#222","labelPadding":4,"ticks":false,"domainColor":"#b0b0b0","labelOverlap":false}},
"y":{"field":"lo","type":"quantitative","scale":{"domain":[0,6202],"nice":false},
"axis":{"title":"Produktivitas padi (kg/ha)","values":[0,1000,2000,3000,4000,5000,6000],"tickCount":20,"labelOverlap":false,"titleY":53}},
"y2":{"field":"hi"}}},
{"mark":{"type":"bar","width":{"band":0.58},"fill":"#4a7ebb","stroke":"#222","strokeWidth":0.8},
"encoding":{"x":{"field":"k","type":"nominal"},"y":{"field":"q1","type":"quantitative"},"y2":{"field":"q3"}}},
{"mark":{"type":"tick","size":12,"thickness":1,"color":"#25406b"},
"encoding":{"x":{"field":"k","type":"nominal"},"y":{"field":"md","type":"quantitative"}}},
{"mark":{"type":"tick","size":7,"thickness":1,"color":"#1a1a1a"},
"encoding":{"x":{"field":"k","type":"nominal"},"y":{"field":"lo","type":"quantitative"}}},
{"mark":{"type":"tick","size":7,"thickness":1,"color":"#1a1a1a"},
"encoding":{"x":{"field":"k","type":"nominal"},"y":{"field":"hi","type":"quantitative"}}},
{"mark":{"type":"line","strokeWidth":1.5},
"encoding":{"x":{"field":"k","type":"nominal"},"y":{"field":"obs","type":"quantitative"},
"color":{"datum":"Observasi","scale":{"range":["#111111"]},
"legend":{"title":null,"orient":"none","legendX":865,"legendY":61,"labelFont":"DejaVu Sans","labelFontSize":12,"labelColor":"#222","labelOffset":2,"symbolType":"M-1,0H1M-0.35,0A0.35,0.22 0 1,0 0.35,0A0.35,0.22 0 1,0 -0.35,0Z","symbolSize":729,"symbolStrokeWidth":1.5,
"encode":{"symbols":{"update":{"fill":{"value":"black"},"stroke":{"value":"#111"}}}}}}}},
{"mark":{"type":"point","shape":"M-1,0A1,0.62 0 1,0 1,0A1,0.62 0 1,0 -1,0Z","size":56,"filled":true,"color":"black","opacity":1},
"encoding":{"x":{"field":"k","type":"nominal"},"y":{"field":"obs","type":"quantitative"}}},
{"data":{"values":[{"k":"2001 01 5-May","v":944,"t":"r=0.57**"},{"k":"2001 08 15-Jul","v":944,"t":"rmse=473"}]},
"mark":{"type":"text","align":"left","baseline":"middle","fontSize":19,"dx":6,"font":"DejaVu Sans","color":"black"},
"encoding":{"x":{"field":"k","type":"nominal"},"y":{"field":"v","type":"quantitative"},"text":{"field":"t"}}}
]},
{"mark":{"type":"rule","opacity":0},
"encoding":{"x":{"field":"yr","type":"nominal","scale":{"type":"band","paddingInner":0,"paddingOuter":0},
"axis":{"orient":"bottom","title":"Waktu Tanam","titleY":43,"titleFont":"DejaVu Sans","titleFontSize":14,"titleFontWeight":"normal","titleColor":"#222","tickBand":"extent","tickSize":43,"tickColor":"#aaaaaa","domain":false,"labelAngle":0,"labelPadding":-10,"labelFont":"DejaVu Sans","labelFontSize":10,"labelColor":"#333"}}}}
],
"resolve":{"scale":{"x":"independent"}}
}
],
"spacing":63,
"bounds":"flush",
"resolve":{"scale":{"x":"independent","y":"independent","color":"independent"},"legend":{"color":"independent"}}
}
